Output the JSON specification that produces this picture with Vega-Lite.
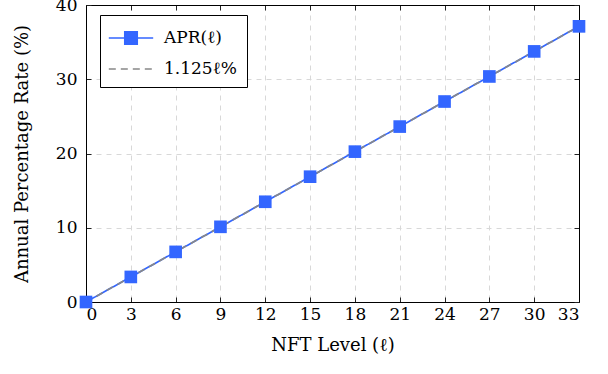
{
  "$schema": "https://vega.github.io/schema/vega-lite/v6.json",
  "width": 493,
  "height": 297,
  "autosize": {"type": "none"},
  "padding": {"left": 86, "top": 5, "right": 29, "bottom": 72},
  "background": "white",
  "config": {
    "font": "DejaVu Serif",
    "view": {"stroke": null},
    "axis": {
      "labelFont": "DejaVu Serif",
      "titleFont": "DejaVu Serif",
      "labelFontSize": 17,
      "titleFontSize": 18,
      "labelColor": "black",
      "titleColor": "black",
      "titleFontWeight": "normal",
      "domain": true,
      "domainColor": "black",
      "domainWidth": 1,
      "tickColor": "#222",
      "tickWidth": 1,
      "tickSize": -5,
      "gridColor": "#d8d8d8",
      "gridDash": [5, 5],
      "gridWidth": 1
    }
  },
  "resolve": {"axis": {"x": "independent", "y": "independent"}},
  "data": {
    "values": [
      {"level": 0, "apr": 0, "series": "APR(ℓ)"},
      {"level": 3, "apr": 3.375, "series": "APR(ℓ)"},
      {"level": 6, "apr": 6.75, "series": "APR(ℓ)"},
      {"level": 9, "apr": 10.125, "series": "APR(ℓ)"},
      {"level": 12, "apr": 13.5, "series": "APR(ℓ)"},
      {"level": 15, "apr": 16.875, "series": "APR(ℓ)"},
      {"level": 18, "apr": 20.25, "series": "APR(ℓ)"},
      {"level": 21, "apr": 23.625, "series": "APR(ℓ)"},
      {"level": 24, "apr": 27, "series": "APR(ℓ)"},
      {"level": 27, "apr": 30.375, "series": "APR(ℓ)"},
      {"level": 30, "apr": 33.75, "series": "APR(ℓ)"},
      {"level": 33, "apr": 37.125, "series": "APR(ℓ)"},
      {"level": 0, "apr": 0, "series": "1.125ℓ%"},
      {"level": 33, "apr": 37.125, "series": "1.125ℓ%"}
    ]
  },
  "layer": [
    {
      "mark": {"type": "line", "strokeWidth": 1.7, "clip": true},
      "encoding": {
        "x": {
          "field": "level", "type": "quantitative",
          "scale": {"domain": [0, 33], "nice": false, "zero": false},
          "axis": {"values": [0, 3, 6, 9, 12, 15, 18, 21, 24, 27, 30, 33], "title": "NFT Level (ℓ)", "titlePadding": 14, "labelPadding": 9}
        },
        "y": {
          "field": "apr", "type": "quantitative",
          "scale": {"domain": [0, 40], "nice": false},
          "axis": {"values": [0, 10, 20, 30, 40], "title": "Annual Percentage Rate (%)", "titlePadding": 24, "labelPadding": 14}
        },
        "color": {
          "field": "series", "type": "nominal",
          "scale": {"domain": ["APR(ℓ)", "1.125ℓ%"], "range": ["#3366ff", "#888888"]},
          "legend": {
            "title": null,
            "orient": "none",
            "legendX": 14,
            "legendY": 10,
            "strokeColor": "black",
            "fillColor": "white",
            "padding": 10,
            "labelFont": "DejaVu Serif",
            "labelFontSize": 17,
            "labelColor": "black",
            "symbolSize": 576,
            "symbolOffset": 8,
            "labelOffset": 20,
            "rowPadding": 8,
            "encode": {
              "symbols": {
                "update": {
                  "shape": {"signal": "datum.value === 'APR(ℓ)' ? 'M-1.85,0H1.85M-0.52,-0.52H0.52V0.52H-0.52Z' : 'M-1.85,0H1.85'"},
                  "fill": {"signal": "datum.value === 'APR(ℓ)' ? '#3366ff' : 'transparent'"},
                  "strokeDash": {"signal": "datum.value === 'APR(ℓ)' ? [1, 0] : [7, 5]"},
                  "strokeWidth": {"value": 1.6}
                }
              }
            }
          }
        },
        "strokeDash": {
          "field": "series", "type": "nominal",
          "scale": {"domain": ["APR(ℓ)", "1.125ℓ%"], "range": [[1, 0], [7, 5]]},
          "legend": null
        }
      }
    },
    {
      "transform": [{"filter": "datum.series === 'APR(ℓ)'"}],
      "mark": {"type": "point", "shape": "square", "filled": true, "opacity": 1, "size": 160, "color": "#3366ff", "clip": false},
      "encoding": {
        "x": {"field": "level", "type": "quantitative", "axis": {"orient": "top", "values": [0, 3, 6, 9, 12, 15, 18, 21, 24, 27, 30, 33], "labels": false, "title": null, "grid": false, "tickSize": -5}},
        "y": {"field": "apr", "type": "quantitative", "axis": {"orient": "right", "values": [0, 10, 20, 30, 40], "labels": false, "title": null, "grid": false, "tickSize": -5}}
      }
    }
  ]
}
